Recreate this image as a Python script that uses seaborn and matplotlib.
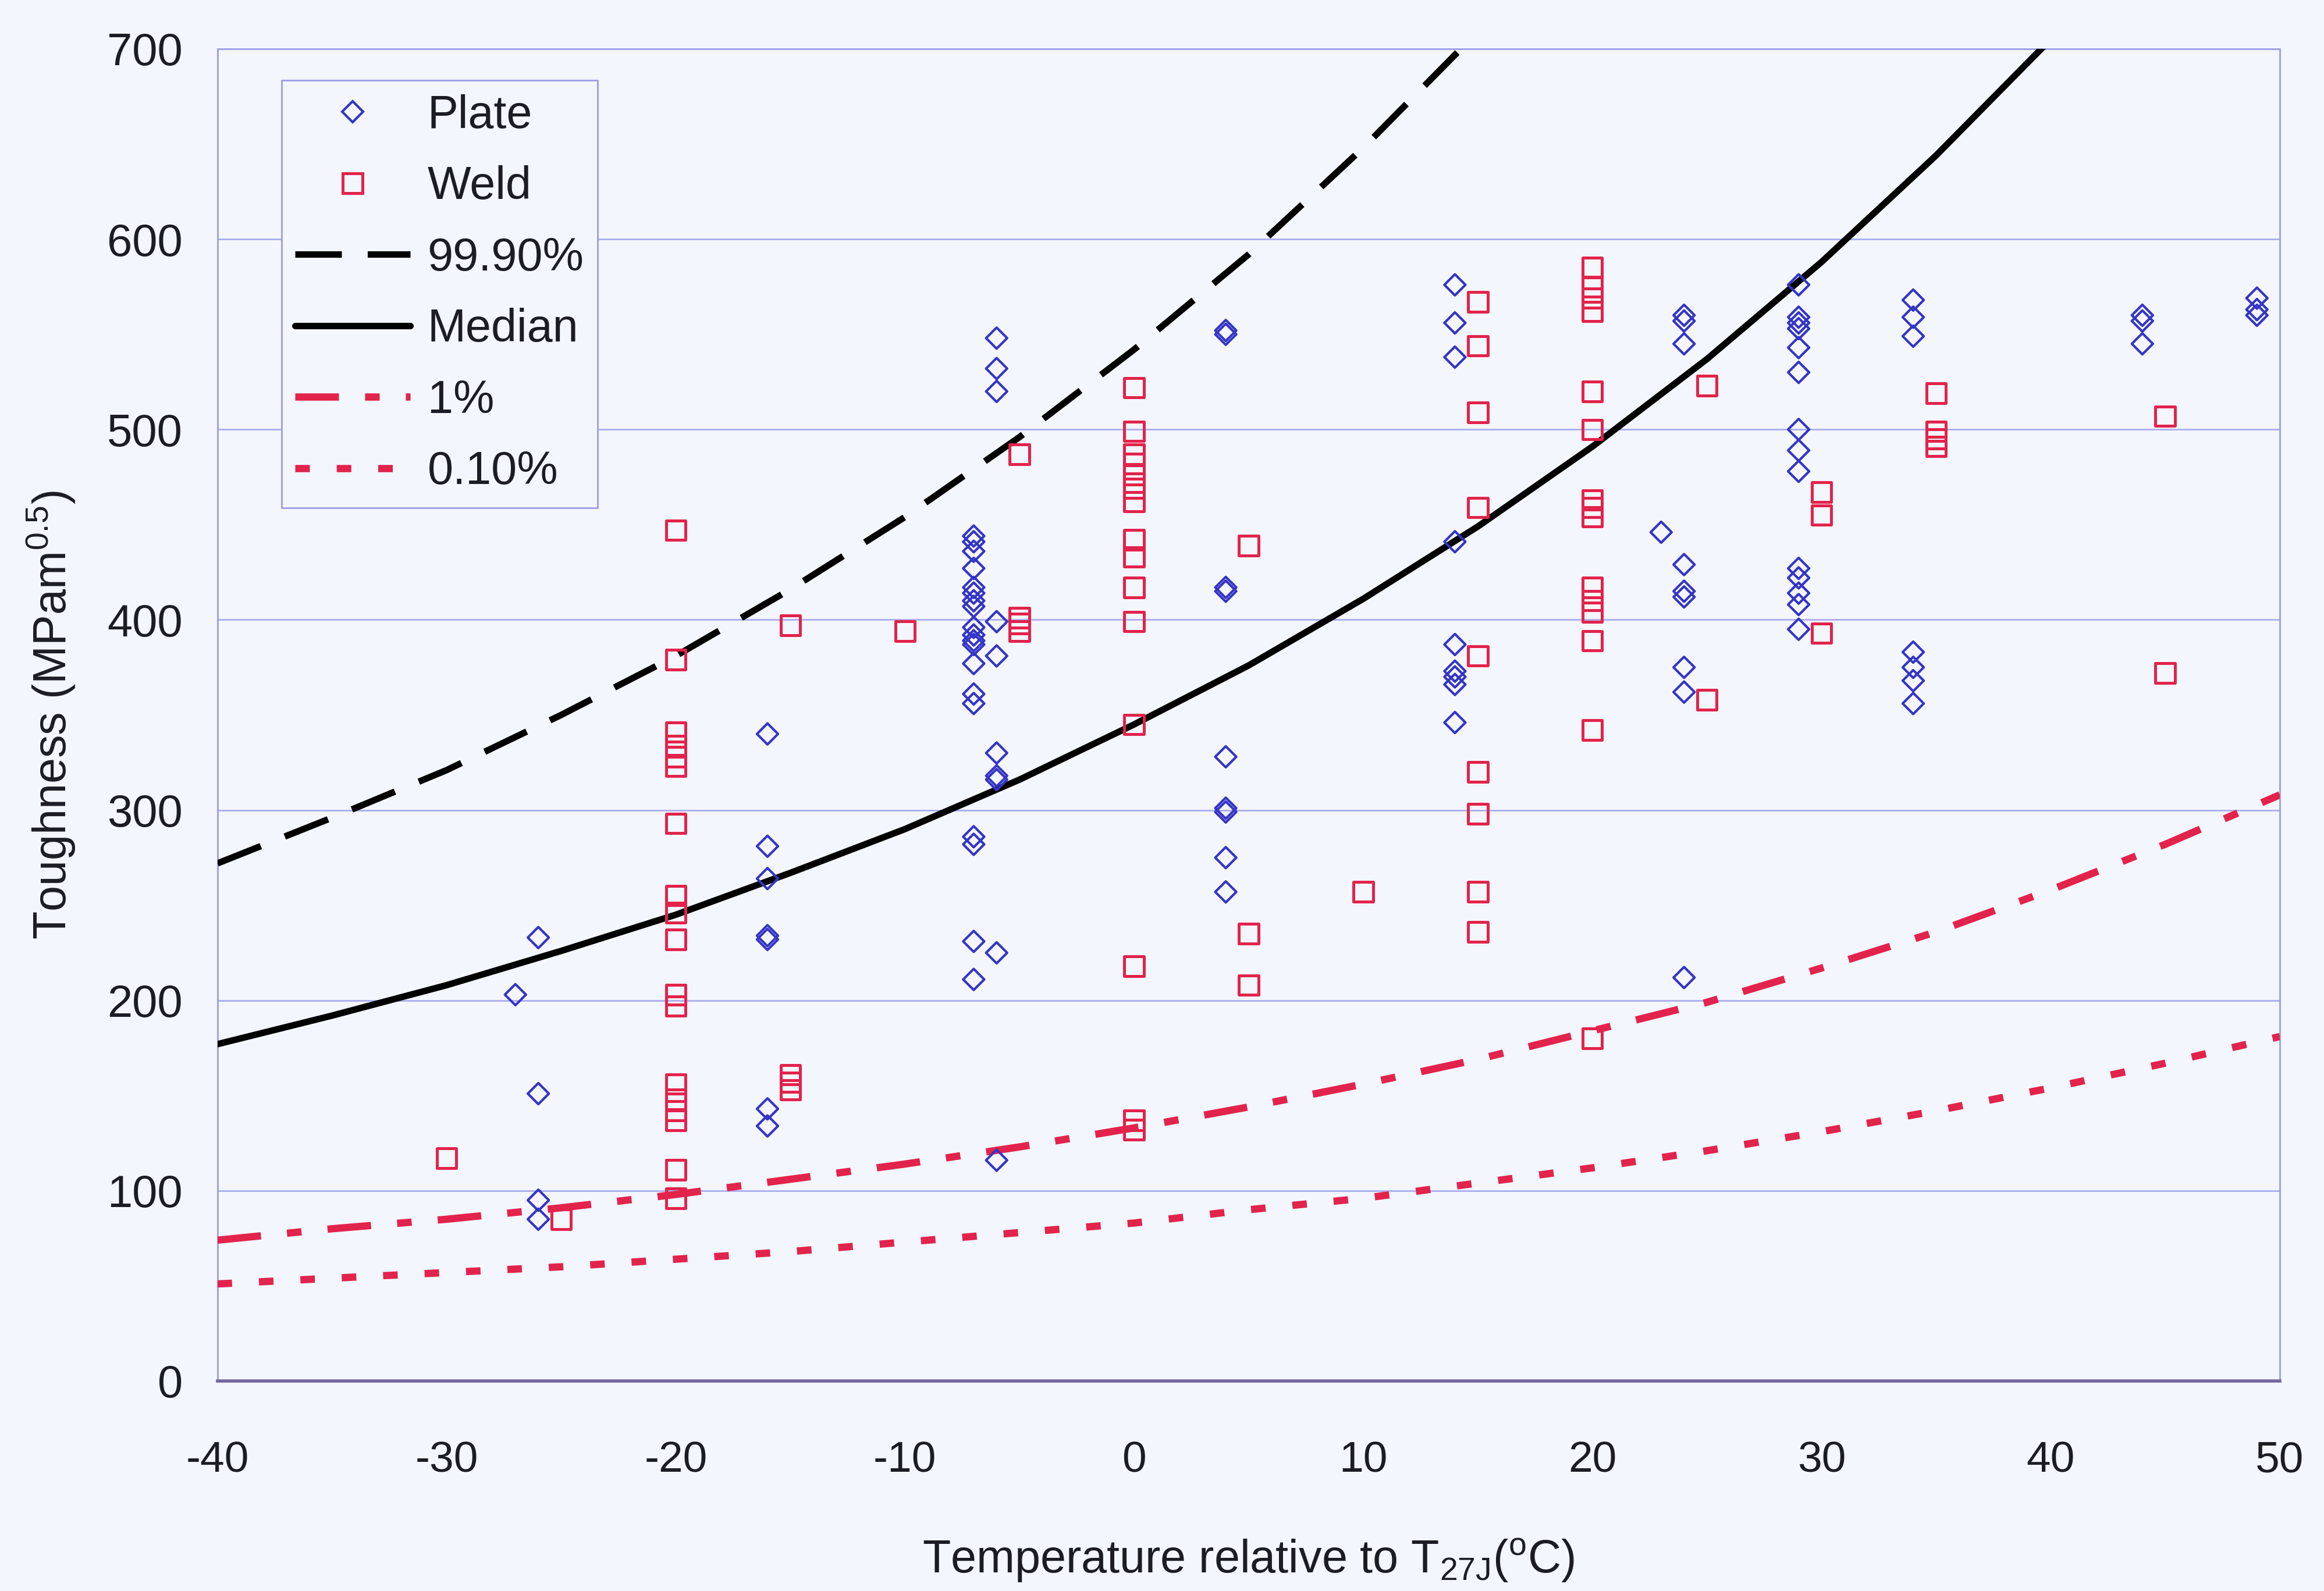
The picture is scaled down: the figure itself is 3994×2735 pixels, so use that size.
import numpy as np
import pandas as pd
import matplotlib
matplotlib.use("Agg")
import matplotlib.pyplot as plt
import seaborn as sns
from matplotlib.lines import Line2D

# ---------------- data ----------------
plate_temps = [-27, -26, -16, -7, -6, 4, 14, 23, 24, 29, 34, 44, 49]
plate_values = [
    [203],
    [233, 151, 95, 85],
    [340, 281, 264, 234, 232, 143, 134],
    [444, 441, 436, 427, 417, 414, 410, 407, 396, 392, 389, 387, 377, 361, 356, 286, 282, 231, 211],
    [548, 532, 520, 399, 381, 330, 318, 316, 225, 116],
    [552, 550, 417, 415, 328, 301, 299, 275, 257],
    [576, 556, 538, 441, 387, 373, 370, 366, 346],
    [446],
    [560, 557, 545, 429, 415, 412, 375, 362, 212],
    [576, 559, 556, 553, 543, 530, 500, 489, 478, 427, 422, 414, 408, 395],
    [568, 559, 549, 383, 375, 368, 356],
    [560, 557, 545],
    [569, 563, 560],
]

weld_temps = [-30, -25, -20, -15, -10, -5, 0, 5, 10, 15, 20, 25, 30, 35, 45]
weld_values = [
    [117],
    [85],
    [447, 379, 341, 334, 328, 323, 293, 255, 246, 232, 203, 197, 156, 148, 142, 137, 111, 96],
    [397, 161, 157, 153],
    [394],
    [487, 401, 398, 394],
    [522, 499, 487, 482, 476, 469, 462, 442, 433, 417, 399, 345, 218, 137, 132],
    [439, 235, 208],
    [257],
    [567, 544, 509, 459, 381, 320, 298, 257, 236],
    [585, 575, 569, 562, 520, 500, 463, 459, 454, 417, 410, 404, 389, 342, 180],
    [523, 358],
    [467, 455, 393],
    [519, 499, 495, 491],
    [507, 372],
]

upper_temp = [-40, -35, -30, -25, -20, -15, -10, -5, 0, 5, 10, 15]
upper_vals = [272, 296, 321, 350, 381, 416, 454, 496, 542, 592, 648, 709]

median_temp = [-40, -35, -30, -25, -20, -15, -10, -5, 0, 5, 10, 15, 20, 25, 30, 35, 40]
median_vals = [177, 192, 208, 226, 245, 267, 290, 316, 345, 376, 411, 449, 491, 537, 588, 644, 705]

low_temp = [-40, -35, -30, -25, -20, -15, -10, -5, 0, 5, 10, 15, 20, 25, 30, 35, 40, 45, 50]
p1_vals = [74, 80, 85, 91, 98, 106, 114, 123, 133, 144, 156, 169, 184, 199, 217, 236, 258, 282, 308]
p01_vals = [51, 54, 57, 60, 64, 68, 73, 78, 83, 90, 96, 104, 112, 121, 131, 142, 154, 167, 181]

legend_labels = ["Plate", "Weld", "99.90%", "Median", "1%", "0.10%"]
x_ticks = [-40, -30, -20, -10, 0, 10, 20, 30, 40, 50]
y_ticks = [0, 100, 200, 300, 400, 500, 600, 700]

# ---------------- tables ----------------
plate_df = pd.DataFrame({
    "temp": [t for t, vs in zip(plate_temps, plate_values) for _ in vs],
    "tough": [v for vs in plate_values for v in vs],
})
weld_df = pd.DataFrame({
    "temp": [t for t, vs in zip(weld_temps, weld_values) for _ in vs],
    "tough": [v for vs in weld_values for v in vs],
})

# ---------------- style ----------------
BG = "#f4f6fd"
GRID = "#a9adee"
SPINE = "#9c9ce4"
BLUE = "#3434c6"
RED = "#e2234b"
TXT = "#1c1c24"

sns.set_theme(style="white")
plt.rcParams["font.family"] = ["Liberation Sans", "DejaVu Sans"]
plt.rcParams["axes.unicode_minus"] = False
plt.rcParams["mathtext.fontset"] = "custom"
plt.rcParams["mathtext.rm"] = "Liberation Sans"

fig = plt.figure(figsize=(39.94, 27.35), dpi=100, facecolor=BG)
ax = fig.add_axes([0.0936, 0.132, 0.8874, 0.8373])
ax.set_facecolor(BG)

DIA_S, DIA_LW = 340, 3.0
SQ_S, SQ_LW = 580, 3.6

# scatter points
sns.scatterplot(data=plate_df, x="temp", y="tough", marker="D", s=DIA_S, ax=ax,
                color=BLUE, linewidth=DIA_LW, legend=False, zorder=4)
c = ax.collections[-1]
c.set_facecolor("none"); c.set_edgecolor(BLUE); c.set_linewidth(DIA_LW)

sns.scatterplot(data=weld_df, x="temp", y="tough", marker="s", s=SQ_S, ax=ax,
                color=RED, linewidth=SQ_LW, legend=False, zorder=4)
c = ax.collections[-1]
c.set_facecolor("none"); c.set_edgecolor(RED); c.set_linewidth(SQ_LW)

# curves
BLK_LW = 8
RED_LW = 9
DASH = (0, (7.2, 4.0))
DASHDOT = (0, (6.0, 3.6, 2.0, 3.6))
DOT = (0, (2.0, 3.7))
sns.lineplot(x=upper_temp, y=upper_vals, ax=ax, color="black", lw=BLK_LW,
             linestyle=DASH, zorder=3, legend=False)
sns.lineplot(x=median_temp, y=median_vals, ax=ax, color="black", lw=BLK_LW,
             zorder=3, legend=False)
sns.lineplot(x=low_temp, y=p1_vals, ax=ax, color=RED, lw=RED_LW,
             linestyle=DASHDOT, zorder=3, legend=False)
sns.lineplot(x=low_temp, y=p01_vals, ax=ax, color=RED, lw=RED_LW,
             linestyle=DOT, zorder=3, legend=False)

# axes
ax.set_xlim(-40, 50)
ax.set_ylim(0, 700)
ax.set_xticks(x_ticks)
ax.set_yticks(y_ticks)
ax.set_xticklabels([str(t) for t in x_ticks])
ax.set_yticklabels([str(t) for t in y_ticks])
ax.yaxis.grid(True, color=GRID, lw=2.0)
ax.xaxis.grid(False)
ax.set_axisbelow(True)

for side in ["left", "right", "top"]:
    ax.spines[side].set_color(SPINE)
    ax.spines[side].set_linewidth(2.0)
ax.spines["bottom"].set_color("#73679f")
ax.spines["bottom"].set_linewidth(4.0)

ax.tick_params(axis="x", direction="out", length=28, width=1.2, color=SPINE,
               pad=46, labelsize=54, labelcolor=TXT)
ax.tick_params(axis="y", direction="out", length=15, width=1.5, color=SPINE,
               pad=28, labelsize=56, labelcolor=TXT)

ax.set_xlabel(r"Temperature relative to T$_{\mathregular{27J}}$($^{\mathregular{o}}$C)",
              fontsize=57, color=TXT)
ax.set_ylabel(r"Toughness (MPam$^{\mathregular{0.5}}$)", fontsize=57, color=TXT)
ax.xaxis.set_label_coords(0.5, -0.117)
ax.yaxis.set_label_coords(-0.068, 0.5)

# legend
handles = [
    Line2D([], [], ls="", marker="D", ms=np.sqrt(DIA_S), mfc="none", mec=BLUE, mew=DIA_LW),
    Line2D([], [], ls="", marker="s", ms=np.sqrt(SQ_S), mfc="none", mec=RED, mew=SQ_LW),
    Line2D([], [], color="black", lw=BLK_LW, linestyle=DASH),
    Line2D([], [], color="black", lw=BLK_LW),
    Line2D([], [], color=RED, lw=RED_LW, linestyle=DASHDOT),
    Line2D([], [], color=RED, lw=RED_LW, linestyle=DOT),
]
leg = ax.legend(handles, legend_labels, loc="upper left",
                bbox_to_anchor=(0.031, 0.9764), borderaxespad=0,
                fontsize=57, handlelength=2.5, handletextpad=0.37,
                borderpad=0.3, labelspacing=0.6, frameon=True,
                fancybox=False, framealpha=1, facecolor=BG,
                edgecolor=SPINE)
leg.get_frame().set_linewidth(2.0)
for t in leg.get_texts():
    t.set_color(TXT)

fig.savefig("out.png", dpi=100, facecolor=BG)
